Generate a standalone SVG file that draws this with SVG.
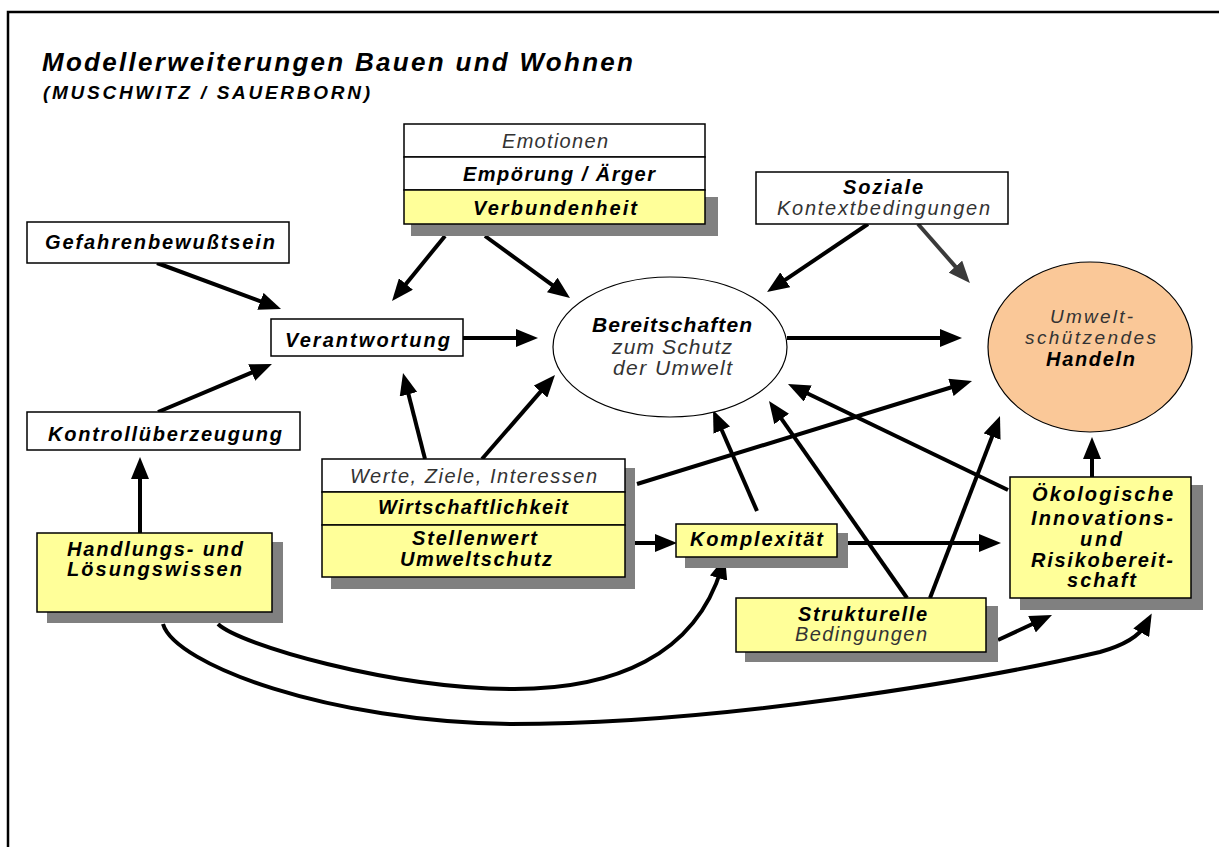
<svg xmlns="http://www.w3.org/2000/svg" width="1219" height="847" viewBox="0 0 1219 847">
<style>
.bx{stroke:#000;stroke-width:1.5}
.w{fill:#fff}
.y{fill:#FFFF99}
.sh{fill:#808080}
.b{font-family:"Liberation Sans",Arial,sans-serif;font-weight:bold;font-style:italic;font-size:20px;fill:#000}
.i{font-family:"Liberation Sans",Arial,sans-serif;font-style:italic;font-size:21px;fill:#333}
.c{stroke:#000;stroke-width:4;fill:none;marker-end:url(#ah)}
.cd{stroke:#3a3a3a;stroke-width:4;fill:none;marker-end:url(#ahd)}
</style>
<defs>
<marker id="ah" viewBox="0 0 22 18" refX="10" refY="9" markerWidth="22" markerHeight="18" markerUnits="userSpaceOnUse" orient="auto">
<path d="M0,0 L22,9 L0,18 z" fill="#000"/>
</marker>
<marker id="ahd" viewBox="0 0 22 18" refX="10" refY="9" markerWidth="22" markerHeight="18" markerUnits="userSpaceOnUse" orient="auto">
<path d="M0,0 L22,9 L0,18 z" fill="#3a3a3a"/>
</marker>
</defs>
<rect width="1219" height="847" fill="#fff"/>
<path d="M8,847 V12 H1219" fill="none" stroke="#000" stroke-width="2.5"/>
<g id="title">
<text x="42" y="71" class="b" style="font-size:26px" textLength="591" lengthAdjust="spacing">Modellerweiterungen Bauen und Wohnen</text>
<text x="43" y="99" class="b" style="font-size:19px" textLength="327" lengthAdjust="spacing">(MUSCHWITZ / SAUERBORN)</text>
</g>
<g id="connectors">
<path class="c" d="M157,263 L269.8,304.8"/>
<path class="c" d="M158,412 L260.9,368.7"/>
<path class="c" d="M445,236 L399.6,291.7"/>
<path class="c" d="M485,236 L560.3,290.9"/>
<path class="c" d="M463,338 L526,338"/>
<path class="c" d="M425,459 L406,384.6"/>
<path class="c" d="M482,459 L547.1,384.1"/>
<path class="c" d="M868,224 L777,285.4"/>
<path class="cd" d="M918,224 L962,274.1"/>
<path class="c" d="M787,338 L950,338"/>
<path class="c" d="M637,484 L960.5,384.5"/>
<path class="c" d="M1008,490 L798.8,389.2"/>
<path class="c" d="M1092,477 L1092,449"/>
<path class="c" d="M625,543 L665,543"/>
<path class="c" d="M848,543 L989,543"/>
<path class="c" d="M757,511 L717.8,421"/>
<path class="c" d="M907,598 L775.9,410.8"/>
<path class="c" d="M930,598 L995.7,427.2"/>
<path class="c" d="M998,640 L1041.1,620"/>
<path class="c" d="M140,533 L140,469"/>
<path class="c" d="M218,624 C240,645 390,688 510,689 C615,690 695,655 721.5,568.5"/>
<path class="c" d="M163,624 C175,665 330,722 511,724 C720,724 980,680 1100,652 C1125,645 1140,635 1146,624"/>
</g>
<g id="emotionen">
<rect class="sh" x="411" y="197" width="307" height="39"/>
<rect class="bx w" x="404" y="124" width="301" height="33"/>
<rect class="bx w" x="404" y="157" width="301" height="33"/>
<rect class="bx y" x="404" y="190" width="301" height="34"/>
<text x="502" y="148" class="i" style="font-size:20px" textLength="106" lengthAdjust="spacing">Emotionen</text>
<text x="463" y="181" class="b" textLength="192" lengthAdjust="spacing">Empörung / Ärger</text>
<text x="473" y="215" class="b" textLength="164" lengthAdjust="spacing">Verbundenheit</text>
</g>
<g id="soziale">
<rect class="bx w" x="756" y="172" width="252" height="52"/>
<text x="843" y="194" class="b" textLength="80" lengthAdjust="spacing">Soziale</text>
<text x="777" y="215" class="i" style="font-size:20px" textLength="213" lengthAdjust="spacing">Kontextbedingungen</text>
</g>
<g id="gefahren">
<rect class="bx w" x="27" y="222" width="262" height="41"/>
<text x="45" y="249" class="b" textLength="230" lengthAdjust="spacing">Gefahrenbewußtsein</text>
</g>
<g id="verantwortung">
<rect class="bx w" x="271" y="319" width="192" height="37"/>
<text x="285" y="347" class="b" textLength="165" lengthAdjust="spacing">Verantwortung</text>
</g>
<g id="kontroll">
<rect class="bx w" x="27" y="412" width="273" height="38"/>
<text x="48" y="441" class="b" textLength="234" lengthAdjust="spacing">Kontrollüberzeugung</text>
</g>
<g id="bereitschaften">
<ellipse cx="670" cy="347" rx="117" ry="70" fill="#fff" stroke="#000" stroke-width="1.2"/>
<text x="592" y="332" class="b" style="font-size:21px" textLength="160" lengthAdjust="spacing">Bereitschaften</text>
<text x="612" y="354" class="i" textLength="120" lengthAdjust="spacing">zum Schutz</text>
<text x="613" y="375" class="i" textLength="119" lengthAdjust="spacing">der Umwelt</text>
</g>
<g id="handeln">
<ellipse cx="1090" cy="347" rx="102" ry="85" fill="#FAC898" stroke="#000" stroke-width="1.2"/>
<text x="1050" y="323" class="i" style="font-size:19px" textLength="83" lengthAdjust="spacing">Umwelt-</text>
<text x="1025" y="344" class="i" style="font-size:19px" textLength="131" lengthAdjust="spacing">schützendes</text>
<text x="1046" y="366" class="b" textLength="89" lengthAdjust="spacing">Handeln</text>
</g>
<g id="werte">
<rect class="sh" x="331" y="468" width="304" height="121"/>
<rect class="bx w" x="322" y="459" width="303" height="33"/>
<rect class="bx y" x="322" y="492" width="303" height="33"/>
<rect class="bx y" x="322" y="525" width="303" height="52"/>
<text x="350" y="483" class="i" style="font-size:20px" textLength="247" lengthAdjust="spacing">Werte, Ziele, Interessen</text>
<text x="378" y="514" class="b" textLength="190" lengthAdjust="spacing">Wirtschaftlichkeit</text>
<text x="412" y="545" class="b" textLength="125" lengthAdjust="spacing">Stellenwert</text>
<text x="400" y="566" class="b" textLength="152" lengthAdjust="spacing">Umweltschutz</text>
</g>
<g id="komplexitaet">
<rect class="sh" x="685" y="533" width="163" height="35"/>
<rect class="bx y" x="676" y="524" width="161" height="33"/>
<text x="690" y="546" class="b" textLength="133" lengthAdjust="spacing">Komplexität</text>
</g>
<g id="strukturelle">
<rect class="sh" x="745" y="606" width="253" height="56"/>
<rect class="bx y" x="736" y="598" width="250" height="54"/>
<text x="798" y="621" class="b" textLength="129" lengthAdjust="spacing">Strukturelle</text>
<text x="795" y="641" class="i" style="font-size:20px" textLength="132" lengthAdjust="spacing">Bedingungen</text>
</g>
<g id="oekologische">
<rect class="sh" x="1020" y="485" width="183" height="125"/>
<rect class="bx y" x="1010" y="477" width="181" height="121"/>
<text x="1032" y="501" class="b" textLength="141" lengthAdjust="spacing">Ökologische</text>
<text x="1031" y="525" class="b" textLength="142" lengthAdjust="spacing">Innovations-</text>
<text x="1080" y="546" class="b" textLength="42" lengthAdjust="spacing">und</text>
<text x="1031" y="567" class="b" textLength="142" lengthAdjust="spacing">Risikobereit-</text>
<text x="1067" y="587" class="b" textLength="69" lengthAdjust="spacing">schaft</text>
</g>
<g id="handlungswissen">
<rect class="sh" x="47" y="542" width="236" height="81"/>
<rect class="bx y" x="37" y="533" width="235" height="79"/>
<text x="67" y="556" class="b" textLength="176" lengthAdjust="spacing">Handlungs- und</text>
<text x="67" y="576" class="b" textLength="175" lengthAdjust="spacing">Lösungswissen</text>
</g>
</svg>
